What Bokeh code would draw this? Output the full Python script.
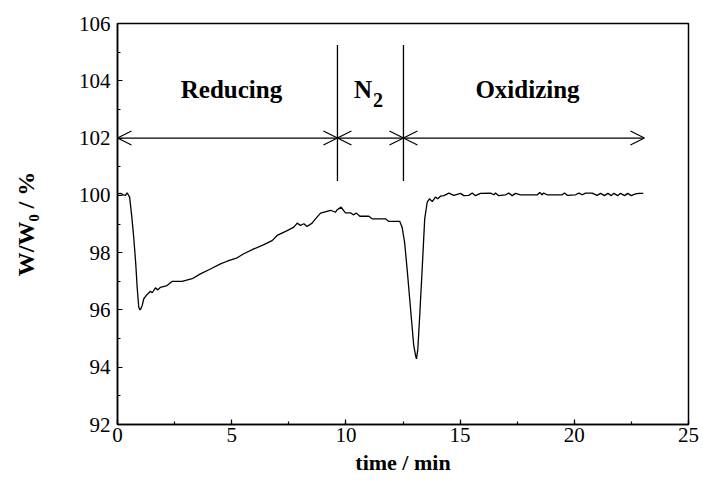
from bokeh.plotting import figure
from bokeh.models import SingleIntervalTicker, Range1d, Arrow, OpenHead, ColumnDataSource
from bokeh.core.properties import value
from bokeh.embed import file_html
from bokeh.resources import INLINE

# ---- data ----
time_min = [0.0, 0.13, 0.25, 0.35, 0.42, 0.53, 0.62, 0.71, 0.80, 0.86, 0.93, 0.98, 1.03, 1.08,
            1.15, 1.30, 1.44, 1.52, 1.66, 1.77, 1.88, 2.17, 2.40, 2.83, 3.27, 3.63, 4.07, 4.51,
            4.80, 5.24, 5.53, 5.97, 6.41, 6.77, 6.99, 7.43, 7.72, 7.87, 8.01, 8.16, 8.30, 8.52,
            8.67, 8.89, 9.33, 9.54, 9.62, 9.79, 9.98, 10.20, 10.32, 10.46, 10.61, 11.00, 11.15,
            11.73, 11.88, 12.36, 12.46, 12.57, 12.68, 12.83, 12.97, 13.05, 13.09, 13.15, 13.24,
            13.34, 13.45, 13.56, 13.66, 13.78, 13.92, 14.02, 14.14, 14.29, 14.51, 14.72, 15.02,
            15.16, 15.38, 15.53, 15.67, 15.89, 16.33, 16.48, 16.55, 16.69, 16.99, 17.13, 17.28,
            17.43, 17.64, 18.38, 18.49, 18.59, 18.66, 18.81, 19.47, 19.57, 19.69, 20.05, 20.20,
            20.35, 20.49, 20.78, 21.00, 21.15, 21.32, 21.47, 21.62, 21.73, 21.90, 22.02, 22.20,
            22.34, 22.49, 22.68, 22.82, 23.02]
weight_pct = [100.05, 100.07, 100.02, 100.0, 100.09, 99.94, 99.30, 98.54, 97.60, 96.80, 96.10,
              96.0, 96.05, 96.15, 96.39, 96.54, 96.65, 96.60, 96.77, 96.70, 96.79, 96.85, 97.0,
              97.0, 97.09, 97.26, 97.43, 97.61, 97.70, 97.82, 97.96, 98.13, 98.28, 98.42, 98.60,
              98.77, 98.89, 99.03, 98.95, 99.01, 98.91, 99.03, 99.18, 99.38, 99.48, 99.41, 99.50,
              99.59, 99.39, 99.39, 99.32, 99.38, 99.27, 99.27, 99.18, 99.18, 99.09, 99.09, 98.89,
              98.36, 97.43, 96.04, 94.76, 94.41, 94.29, 94.64, 95.92, 97.43, 99.18, 99.76, 99.88,
              99.78, 99.94, 99.88, 99.97, 99.99, 100.08, 100.0, 100.07, 99.99, 100.0, 100.08,
              99.99, 100.07, 100.08, 100.02, 100.08, 99.99, 100.02, 100.08, 99.99, 100.07, 100.02,
              100.02, 100.10, 100.02, 100.08, 100.02, 100.02, 100.08, 100.0, 100.02, 100.08,
              100.02, 100.08, 100.08, 100.0, 100.07, 99.99, 100.07, 99.99, 100.07, 99.99, 100.07,
              99.99, 100.07, 99.99, 100.05, 100.07, 100.07]

phase_names = ["Reducing", "N", "Oxidizing"]
phase_start = [0.0, 9.63, 12.52]
phase_end = [9.63, 12.52, 23.07]
phase_label_x = [4.99, 10.75, 17.95]
phase_label_y = 103.7
arrow_y = 102.0
divider_bottom = 100.5
divider_top = 105.25

x_ticks_interval = 5
y_ticks_interval = 2

SERIF = "Liberation Serif"

p = figure(width=703, height=490, output_backend="svg", toolbar_location=None,
           x_range=Range1d(0, 25), y_range=Range1d(92, 106),
           min_border_left=117, min_border_right=15, min_border_top=23, min_border_bottom=66)
p.background_fill_color = "white"
p.border_fill_color = "white"
p.outline_line_color = "black"
p.outline_line_width = 1.5
p.xgrid.visible = False
p.ygrid.visible = False

p.xaxis.ticker = SingleIntervalTicker(interval=x_ticks_interval, num_minor_ticks=2)
p.yaxis.ticker = SingleIntervalTicker(interval=y_ticks_interval, num_minor_ticks=2)

for ax in (p.xaxis[0], p.yaxis[0]):
    ax.axis_line_width = 1.5
    ax.axis_line_color = "black"
    ax.major_tick_in = 5
    ax.major_tick_out = 0
    ax.minor_tick_in = 3
    ax.minor_tick_out = 0
    ax.major_tick_line_width = 1.2
    ax.minor_tick_line_width = 1.2
    ax.major_label_text_font = SERIF
    ax.major_label_text_font_size = "21px"
    ax.major_label_text_color = "black"
    ax.axis_label_text_font = SERIF
    ax.axis_label_text_font_style = "bold"
    ax.axis_label_text_color = "black"

p.xaxis.axis_label = "time / min"
p.xaxis.axis_label_text_font_size = "22px"
p.xaxis.major_label_standoff = 3
p.xaxis.axis_label_standoff = 5
p.yaxis.axis_label = "W/W\u2080 / %"
p.yaxis.axis_label_text_font_size = "24px"
p.yaxis.major_label_standoff = 7
p.yaxis.axis_label_standoff = 37

# curve
p.line(time_min, weight_pct, line_color="black", line_width=1.3)

# phase dividers
dividers = phase_start[1:]
p.segment(x0=dividers, y0=[divider_bottom] * len(dividers), x1=dividers,
          y1=[divider_top] * len(dividers), line_color="black", line_width=1.3)

# double-headed arrows
for s, e in zip(phase_start, phase_end):
    p.add_layout(Arrow(x_start=s, y_start=arrow_y, x_end=e, y_end=arrow_y,
                       line_color="black", line_width=1.2,
                       start=OpenHead(size=14, line_color="black", line_width=1.2),
                       end=OpenHead(size=14, line_color="black", line_width=1.2)))

# phase labels
src = ColumnDataSource(dict(x=phase_label_x, y=[phase_label_y] * 3, t=phase_names))
p.text(x="x", y="y", text="t", source=src, text_font=value(SERIF), text_font_size="25px",
       text_font_style="bold", text_align="center", text_baseline="middle", text_color="black")
# subscript "2" of N2
p.text(x=[phase_label_x[1]], y=[phase_label_y], text=["2"], x_offset=10, y_offset=11,
       text_font=value(SERIF), text_font_size="20px", text_font_style="bold",
       text_align="left", text_baseline="middle", text_color="black")

open("out.html", "w").write(file_html(p, INLINE))
